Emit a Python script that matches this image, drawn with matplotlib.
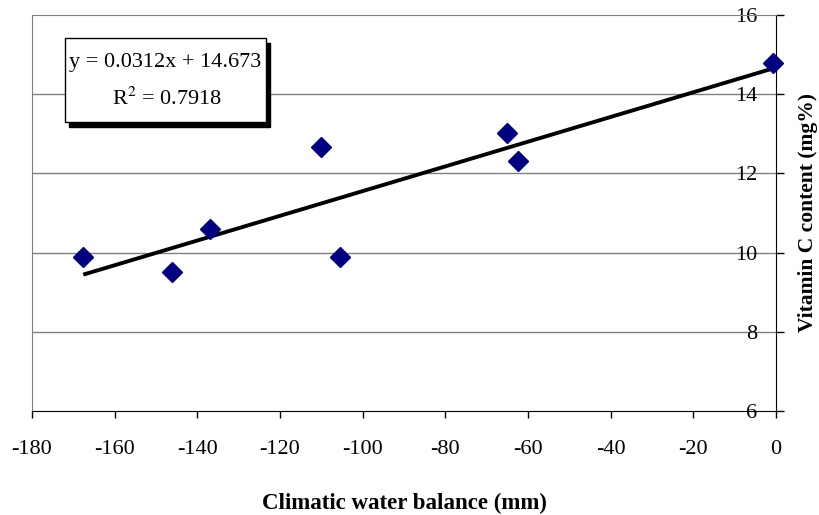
import matplotlib.pyplot as plt
from matplotlib.patches import Rectangle
import numpy as np

plt.rcParams['font.family'] = ['Liberation Serif', 'DejaVu Serif']
plt.rcParams['mathtext.fontset'] = 'stix'
plt.rcParams['axes.unicode_minus'] = False

# climatic water balance (mm) vs vitamin C content (mg%)
water_balance = [-167.6, -146.2, -136.9, -110.2, -105.6, -65.0, -62.3, -0.8]
vitamin_c = [9.88, 9.52, 10.59, 12.67, 9.88, 13.01, 12.31, 14.80]

# linear trend as reported
slope = 0.0312
intercept = 14.673
r_squared = 0.7918

x_ticks = list(range(-180, 1, 20))
y_ticks = [6, 8, 10, 12, 14, 16]

fig = plt.figure(figsize=(8.2, 5.15), dpi=100)
ax = fig.add_axes([32/820, 1-411/515, 744/820, 396/515])

ax.set_xlim(-180, 0)
ax.set_ylim(6, 16)

for yv in y_ticks[1:-1]:
    ax.axhline(yv, color='#808080', lw=1, zorder=1)

xs = np.array([min(water_balance), max(water_balance)])
ax.plot(xs, slope*xs + intercept, color='black', lw=2.8, zorder=2,
        solid_capstyle='butt')
ax.plot(water_balance, vitamin_c, linestyle='none', marker='D', ms=10,
        color='#000080', clip_on=False, zorder=3)

ax.spines['left'].set_color('#808080')
ax.spines['top'].set_color('#808080')
ax.spines['bottom'].set_color('black')
ax.spines['right'].set_color('black')

ax.set_xticks(x_ticks)
ax.set_xticklabels([str(v) for v in x_ticks])
ax.tick_params(axis='x', direction='out', length=5, width=1, pad=16,
               labelsize=16)

ax.yaxis.tick_right()
ax.set_yticks(y_ticks)
ax.tick_params(axis='y', direction='out', length=5.5, width=1, pad=-19,
               labelsize=16)
for lbl in ax.get_yticklabels():
    lbl.set_horizontalalignment('right')

ax.set_xlabel('Climatic water balance (mm)', fontsize=16.5, fontweight='bold',
              labelpad=24)
ax.yaxis.set_label_position('right')
ax.set_ylabel('Vitamin C content (mg%)', fontsize=15.5, fontweight='bold',
              labelpad=10)

# equation box with drop shadow
bx, by, bw, bh = 65, 38, 201, 84
fig.patches.append(Rectangle(((bx+4)/820, 1-(by+bh+5)/515), bw/820, bh/515,
                             transform=fig.transFigure, facecolor='black',
                             edgecolor='black', zorder=5))
fig.patches.append(Rectangle((bx/820, 1-(by+bh)/515), bw/820, bh/515,
                             transform=fig.transFigure, facecolor='white',
                             edgecolor='black', lw=1, zorder=6))
fig.text((bx+bw/2)/820, 1-62/515, 'y = %.4fx + %.3f' % (slope, intercept),
         ha='center', va='center', fontsize=16, zorder=7)
fig.text((bx+bw/2+2)/820, 1-99/515, 'R$^2$ = %.4f' % r_squared,
         ha='center', va='center', fontsize=16, zorder=7)

fig.savefig('out.png', dpi=100)
